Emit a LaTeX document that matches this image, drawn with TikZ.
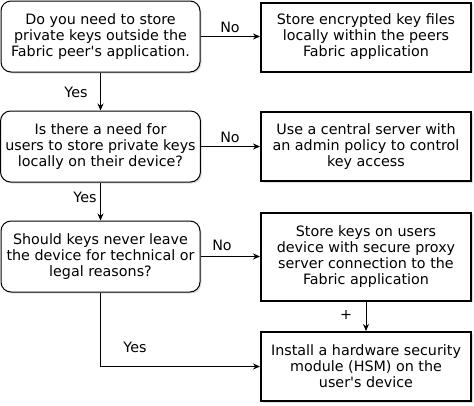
\documentclass[tikz,border=0pt]{standalone}
\usepackage{fontspec}
\setmainfont{DejaVu Sans}
\usetikzlibrary{arrows.meta,shadows}
\begin{document}
\begin{tikzpicture}[x=1pt, y=-1pt,
        question/.style = {draw, line width = 1pt, rounded corners = 10pt, minimum width = 199pt, minimum height = 71pt, align = center, fill = white, drop shadow = {opacity = 0.25, shadow xshift = 1.5pt, shadow yshift = -1.5pt}},
        answer/.style = {draw, line width = 2pt, minimum width = 210pt, minimum height = 69pt, align = center, fill = white, drop shadow = {opacity = 0.25, shadow xshift = 1.5pt, shadow yshift = -1.5pt}},
        flow/.style = {-{Stealth[length = 7pt, width = 6pt]}, line width = 1pt},
        lbl/.style = {inner sep = 0pt}]
        \useasboundingbox (0, 0) rectangle (474, 405);
        \fontsize{14.3}{16}\selectfont

        % questions on the left
        \node[question] (q1) at (100.5, 36.5) {Do you need to store\\private keys outside the\\Fabric peer\textquotesingle s application.};
        \node[question] (q2) at (100.5, 146.5) {Is there a need for\\users to store private keys\\locally on their device?};
        \node[question] (q3) at (100.5, 256.5) {Should keys never leave\\the device for technical or\\legal reasons?};

        % answers on the right
        \node[answer] (a1) at (366, 37) {Store encrypted key files\\locally within the peers\\Fabric application};
        \node[answer] (a2) at (366, 146.5) {Use a central server with\\an admin policy to control\\key access};
        \node[answer, minimum height = 88pt] (a3) at (366, 256.5) {Store keys on users\\device with secure proxy\\server connection to the\\Fabric application};
        \node[answer] (a4) at (366, 366.5) {Install a hardware security\\module (HSM) on the\\user\textquotesingle s device};

        \draw[flow] (q1) -- (a1.west |- q1);
        \draw[flow] (q2) -- (a2.west |- q2);
        \draw[flow] (q3) -- (a3.west |- q3);
        \draw[flow] (q1) -- (q2);
        \draw[flow] (q2) -- (q3);
        \draw[flow] (q3) |- (a4);
        \draw[flow] (a3) -- (a4);

        \node[lbl] (no1) at (230, 27) {No};
        \node[lbl] (no2) at (230, 137) {No};
        \node[lbl] (no3) at (222, 245) {No};
        \node[lbl] (yes1) at (76, 92) {Yes};
        \node[lbl] (yes2) at (85, 197) {Yes};
        \node[lbl] (yes3) at (135, 347) {Yes};
        \node[lbl] (plus) at (346, 315) {+};
    \end{tikzpicture}
\end{document}
